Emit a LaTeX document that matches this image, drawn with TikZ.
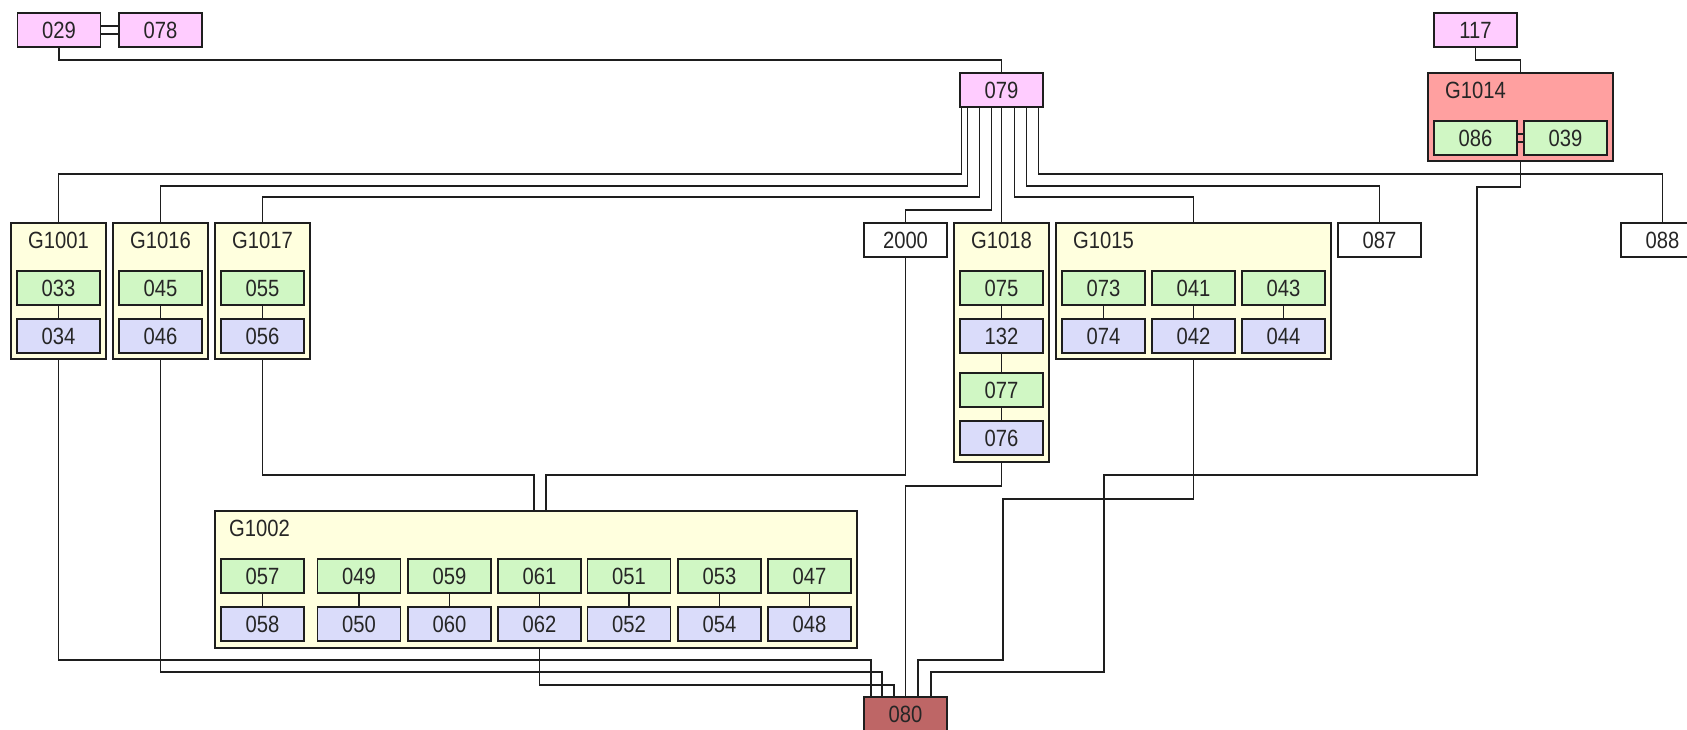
\documentclass[tikz,border=0pt]{standalone}
\usepackage{fontspec}
\newfontfamily\lbl[FakeStretch=0.86]{Liberation Sans}
\usetikzlibrary{calc}
\definecolor{pinkc}{RGB}{255,204,255}
\definecolor{salmonc}{RGB}{255,160,160}
\definecolor{greenc}{RGB}{208,247,196}
\definecolor{bluec}{RGB}{218,220,250}
\definecolor{groupc}{RGB}{255,255,222}
\definecolor{brownc}{RGB}{190,102,102}
\definecolor{linec}{RGB}{30,30,30}
\begin{document}
\begin{tikzpicture}[x=1pt,y=-1pt,
  every node/.style={font=\lbl\fontsize{23.5}{25}\selectfont, text=black!85},
  box/.style={draw=linec, line width=1.8pt, minimum width=83pt, minimum height=34pt, inner sep=0pt},
  pinkbox/.style={box, fill=pinkc},
  greenbox/.style={box, fill=greenc},
  bluebox/.style={box, fill=bluec},
  whitebox/.style={box, fill=white},
  brownbox/.style={box, fill=brownc},
  grp/.style={draw=linec, line width=1.8pt, fill=groupc, inner sep=0pt},
  grptitle/.style={anchor=west, inner sep=0pt},
  conn/.style={draw=linec, line width=1.8pt}
]
\useasboundingbox (0,0) rectangle (1687,729);
\fill[white] (0,0) rectangle (1687,729);

% ---------- group frames ----------
\node[grp, minimum width=95pt, minimum height=136pt] (G1001) at (58.5,291) {};
\node[grp, minimum width=95pt, minimum height=136pt] (G1016) at (160.5,291) {};
\node[grp, minimum width=95pt, minimum height=136pt] (G1017) at (262.5,291) {};
\node[grp, minimum width=95pt, minimum height=239pt] (G1018) at (1001.5,342.5) {};
\node[grp, minimum width=275pt, minimum height=136pt] (G1015) at (1193.5,291) {};
\node[grp, minimum width=642pt, minimum height=137pt] (G1002) at (536,579.5) {};
\node[grp, fill=salmonc, minimum width=185pt, minimum height=88pt] (G1014) at (1520.5,117) {};

\node[grptitle] (tG1001) at (28,240) {G1001};
\node[grptitle] (tG1016) at (130,240) {G1016};
\node[grptitle] (tG1017) at (232,240) {G1017};
\node[grptitle] (tG1018) at (971,240) {G1018};
\node[grptitle] (tG1015) at (1073,240) {G1015};
\node[grptitle] (tG1002) at (229,528) {G1002};
\node[grptitle] (tG1014) at (1445,90) {G1014};

% ---------- single boxes ----------
\node[pinkbox] (n029) at (59,30) {029};
\node[pinkbox] (n078) at (160.5,30) {078};
\node[pinkbox] (n117) at (1475.5,30) {117};
\node[pinkbox] (n079) at (1001.5,90) {079};
\node[greenbox] (n086) at (1475.5,138) {086};
\node[greenbox] (n039) at (1565.5,138) {039};
\node[whitebox] (n2000) at (905.5,240) {2000};
\node[whitebox] (n087) at (1379.5,240) {087};
\node[whitebox] (n088) at (1662.5,240) {088};
\node[brownbox] (n080) at (905.5,714) {080};

% row 2 groups
\node[greenbox] (n033) at (58.5,288) {033};
\node[bluebox]  (n034) at (58.5,336) {034};
\node[greenbox] (n045) at (160.5,288) {045};
\node[bluebox]  (n046) at (160.5,336) {046};
\node[greenbox] (n055) at (262.5,288) {055};
\node[bluebox]  (n056) at (262.5,336) {056};
\node[greenbox] (n075) at (1001.5,288) {075};
\node[bluebox]  (n132) at (1001.5,336) {132};
\node[greenbox] (n077) at (1001.5,390) {077};
\node[bluebox]  (n076) at (1001.5,438) {076};
\node[greenbox] (n073) at (1103.5,288) {073};
\node[bluebox]  (n074) at (1103.5,336) {074};
\node[greenbox] (n041) at (1193.5,288) {041};
\node[bluebox]  (n042) at (1193.5,336) {042};
\node[greenbox] (n043) at (1283.5,288) {043};
\node[bluebox]  (n044) at (1283.5,336) {044};

% G1002
\node[greenbox] (n057) at (262.5,576) {057};
\node[bluebox]  (n058) at (262.5,624) {058};
\node[greenbox] (n049) at (359,576) {049};
\node[bluebox]  (n050) at (359,624) {050};
\node[greenbox] (n059) at (449.5,576) {059};
\node[bluebox]  (n060) at (449.5,624) {060};
\node[greenbox] (n061) at (539.5,576) {061};
\node[bluebox]  (n062) at (539.5,624) {062};
\node[greenbox] (n051) at (629,576) {051};
\node[bluebox]  (n052) at (629,624) {052};
\node[greenbox] (n053) at (719.5,576) {053};
\node[bluebox]  (n054) at (719.5,624) {054};
\node[greenbox] (n047) at (809.5,576) {047};
\node[bluebox]  (n048) at (809.5,624) {048};

% ---------- inner connectors ----------
\foreach \a/\b in {n033/n034,n045/n046,n055/n056,n075/n132,n132/n077,n077/n076,
  n073/n074,n041/n042,n043/n044,n057/n058,n049/n050,n059/n060,n061/n062,
  n051/n052,n053/n054,n047/n048}
  \draw[conn] (\a.south) -- (\b.north);

% double links
\draw[conn] ([yshift=4pt]n029.east) -- ([yshift=4pt]n078.west);
\draw[conn] ([yshift=-4pt]n029.east) -- ([yshift=-4pt]n078.west);
\draw[conn] ([yshift=4pt]n086.east) -- ([yshift=4pt]n039.west);
\draw[conn] ([yshift=-4pt]n086.east) -- ([yshift=-4pt]n039.west);

% ---------- top connectors ----------
\draw[conn] (n029.south) |- ([yshift=12pt]n079.north) -- (n079.north);
\draw[conn] (n117.south) |- ([yshift=12pt]G1014.north) -- (G1014.north);

% fan-out from 079
\draw[conn] ([xshift=-40pt]n079.south) |- ([yshift=48pt]G1001.north) -- (G1001.north);
\draw[conn] ([xshift=-34pt]n079.south) |- ([yshift=36pt]G1016.north) -- (G1016.north);
\draw[conn] ([xshift=-22pt]n079.south) |- ([yshift=25pt]G1017.north) -- (G1017.north);
\draw[conn] ([xshift=-10pt]n079.south) |- ([yshift=12pt]n2000.north) -- (n2000.north);
\draw[conn] (n079.south) -- (G1018.north);
\draw[conn] ([xshift=13pt]n079.south) |- ([yshift=25pt]G1015.north) -- (G1015.north);
\draw[conn] ([xshift=25pt]n079.south) |- ([yshift=36pt]n087.north) -- (n087.north);
\draw[conn] ([xshift=37pt]n079.south) |- ([yshift=48pt]n088.north) -- (n088.north);

% into G1002
\draw[conn] (G1017.south) |- ([xshift=-2pt,yshift=35pt]G1002.north) -- ([xshift=-2pt]G1002.north);
\draw[conn] (n2000.south) |- ([xshift=10pt,yshift=35pt]G1002.north) -- ([xshift=10pt]G1002.north);

% into 080
\draw[conn] (G1001.south) |- ([xshift=-34.5pt,yshift=36pt]n080.north) -- ([xshift=-34.5pt]n080.north);
\draw[conn] (G1016.south) |- ([xshift=-23.5pt,yshift=24pt]n080.north) -- ([xshift=-23.5pt]n080.north);
\draw[conn] (n062.south |- G1002.south) |- ([xshift=-11.5pt,yshift=11pt]n080.north) -- ([xshift=-11.5pt]n080.north);
\draw[conn] (G1018.south) |- ([yshift=210pt]n080.north) -- (n080.north);
\draw[conn] (G1015.south) |- (1003,499) |- ([xshift=12.5pt,yshift=36pt]n080.north) -- ([xshift=12.5pt]n080.north);
\draw[conn] (G1014.south) |- (1477,187) |- (1104,475) |- ([xshift=25.5pt,yshift=24pt]n080.north) -- ([xshift=25.5pt]n080.north);
\end{tikzpicture}
\end{document}
